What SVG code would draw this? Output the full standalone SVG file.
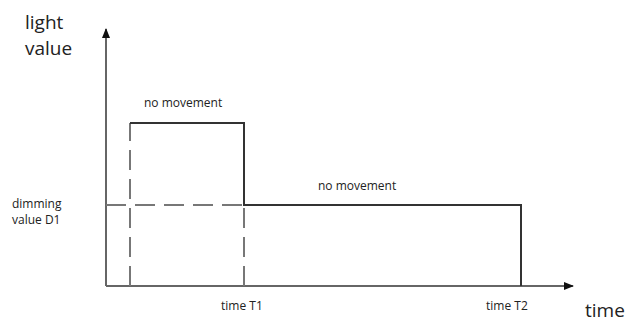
<svg xmlns="http://www.w3.org/2000/svg" width="626" height="323" viewBox="0 0 626 323">
<style>
.t{font-family:"Open Sans","Noto Sans",sans-serif;fill:#222}
.big{font-size:19px}
.sm{font-size:12px}
.axis{stroke:#666;stroke-width:2;fill:none}
.sig{stroke:#333;stroke-width:2;fill:none}
.dash{stroke:#777;stroke-width:2;fill:none;stroke-dasharray:20 9}
</style>
<defs>
<marker id="ah" markerWidth="10" markerHeight="10" refX="9" refY="5" orient="auto" markerUnits="userSpaceOnUse">
<path d="M0,1 L10,5 L0,9 Z" fill="#111"/>
</marker>
</defs>
<rect width="626" height="323" fill="#fff"/>
<g id="connectors">
<line class="axis" x1="106" y1="286" x2="106" y2="29" marker-end="url(#ah)"/>
<line class="axis" x1="106" y1="286" x2="573" y2="286" marker-end="url(#ah)"/>
<line class="dash" x1="106" y1="205" x2="244" y2="205"/>
<line class="dash" x1="130" y1="286" x2="130" y2="123"/>
<line class="dash" x1="244" y1="286" x2="244" y2="205"/>
<polyline class="sig" points="130,123 244,123 244,205 521,205 521,286"/>
</g>
<g id="labels">
<text class="t big" x="25" y="29">light</text>
<text class="t big" x="25" y="55">value</text>
<text class="t sm" x="144" y="107">no movement</text>
<text class="t sm" x="318" y="190">no movement</text>
<text class="t sm" x="12" y="208">dimming</text>
<text class="t sm" x="12" y="224">value D1</text>
<text class="t sm" x="221" y="310">time T1</text>
<text class="t sm" x="486" y="310">time T2</text>
<text class="t big" x="585" y="317">time</text>
</g>
</svg>
